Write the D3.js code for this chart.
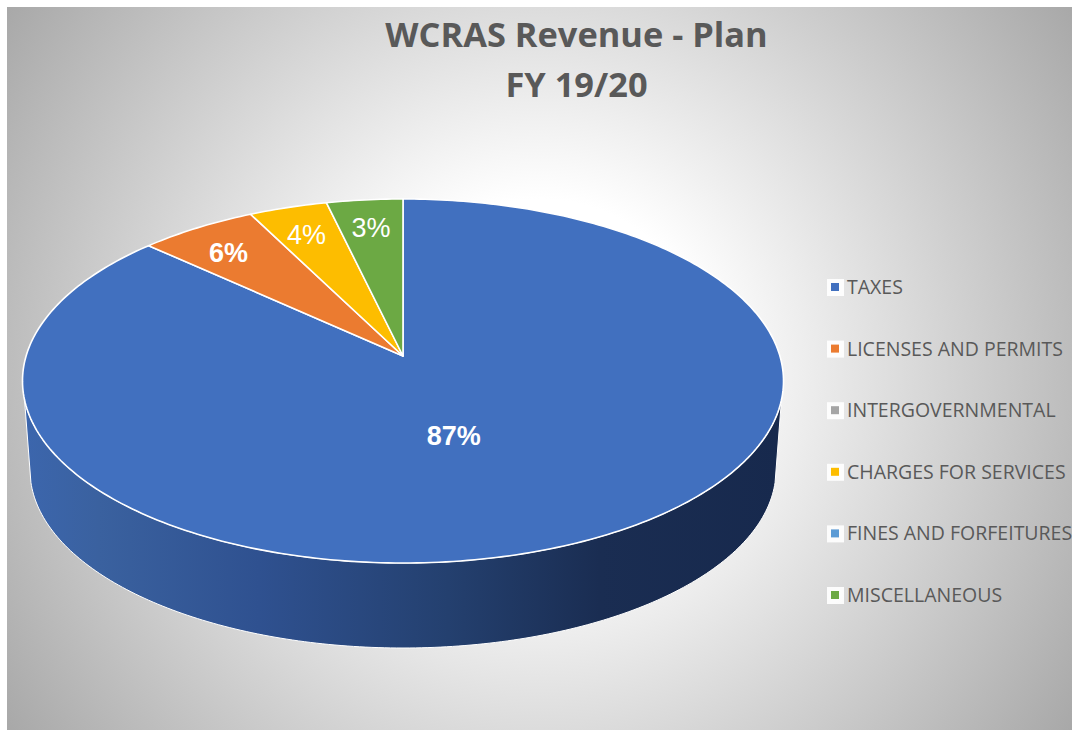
<!DOCTYPE html>
<html><head><meta charset="utf-8">
<style>html,body{margin:0;padding:0;background:#fff;overflow:hidden}svg{display:block}</style>
<script src="https://cdnjs.cloudflare.com/ajax/libs/d3/7.8.5/d3.min.js"></script>
</head><body><svg id="c" width="1072" height="730"></svg>
<script>
const titleLines = ["WCRAS Revenue - Plan", "FY 19/20"];
const categories = ["TAXES","LICENSES AND PERMITS","INTERGOVERNMENTAL","CHARGES FOR SERVICES","FINES AND FORFEITURES","MISCELLANEOUS"];
const values = [86.8, 5.7, 0, 3.8, 0, 3.7];
const labels = ["87%","6%","","4%","","3%"];
const colors = ["#4170bf","#eb7b30","#a5a5a5","#fdbd00","#5b9bd5","#6ca944"];

const svg = d3.select("#c"), W = 1072, H = 730;
const defs = svg.append("defs");
const bg = defs.append("radialGradient").attr("id","bg").attr("gradientUnits","userSpaceOnUse")
  .attr("cx",540).attr("cy",368).attr("r",650);
bg.append("stop").attr("offset",0.26).attr("stop-color","#ffffff");
bg.append("stop").attr("offset",1).attr("stop-color","#a7a7a7");
const wall = defs.append("linearGradient").attr("id","wall").attr("gradientUnits","userSpaceOnUse")
  .attr("x1",24).attr("x2",781).attr("y1",0).attr("y2",0);
[[0,"#3c66ad"],[0.1,"#3a619f"],[0.31,"#2f5190"],[0.56,"#24406f"],[0.76,"#1a2d52"],[1,"#17294d"]]
  .forEach(s=>wall.append("stop").attr("offset",s[0]).attr("stop-color",s[1]));

svg.append("rect").attr("x",7).attr("y",7).attr("width",W-7).attr("height",H-7).attr("fill","url(#bg)");

// perspective projection of the tilted unit disc
const cx=403, cy=356, kx=376.9, a=129.66, c=-0.1374;
const project=(u,v)=>{const d=c*v+1;return [cx+kx*u/d,(a*v+cy)/d];};
const polar=(ang,r=1)=>project(r*Math.sin(ang),-r*Math.cos(ang));
const line=d3.line();
const TAU=Math.PI*2;

// side wall
const rimAng=d3.range(0,181).map(i=>Math.PI*0.5+0.24+(Math.PI-0.48)*i/180);
const bcx=403,bcy=470,brx=373,bry=178;
const bottomPts=d3.range(0,181).map(i=>{const t=(4+172*i/180)*Math.PI/180;return [bcx-brx*Math.cos(t),bcy+bry*Math.sin(t)];});
const topFront=rimAng.map(t=>polar(t));
svg.append("path").attr("d",line(topFront.concat(bottomPts))+"Z")
  .attr("fill","url(#wall)").attr("stroke","#fff").attr("stroke-width",1);

// top slices
const arcs=d3.pie().sort(null).value(d=>d).startAngle(0).endAngle(TAU)(values);
svg.append("g").selectAll("path").data(arcs.filter(d=>d.value>0)).join("path")
  .attr("d",d=>{
    const n=Math.max(2,Math.ceil((d.endAngle-d.startAngle)*60));
    const pts=d3.range(n+1).map(i=>polar(d.startAngle+(d.endAngle-d.startAngle)*i/n));
    return line([[cx,cy]].concat(pts))+"Z";
  })
  .attr("fill",d=>colors[d.index]).attr("stroke","#fff").attr("stroke-width",1.6).attr("stroke-linejoin","round");

// data labels
const labelPos=d=>{
  if(d.index===0) return project(0.127,0.42);
  const back=TAU-(d.startAngle+d.endAngle)/2;
  return polar(TAU-back*(1+back*180/Math.PI*0.001),0.805);
};
svg.append("g").selectAll("text").data(arcs.filter(d=>labels[d.index])).join("text")
  .attr("x",d=>labelPos(d)[0]).attr("y",d=>labelPos(d)[1]).attr("dy","0.36em")
  .attr("text-anchor","middle").attr("fill","#fff")
  .attr("font-family","'Liberation Sans',Arial,sans-serif").attr("font-size",27)
  .attr("font-weight",d=>d.index<2?"bold":"normal")
  .text(d=>labels[d.index]);

// title
svg.append("g").selectAll("text").data(titleLines).join("text")
  .attr("x",576.5).attr("y",(d,i)=>47+i*50).attr("text-anchor","middle")
  .attr("font-family","'Open Sans',sans-serif").attr("font-weight",700).attr("font-size",34.4)
  .attr("fill","#595959").text(d=>d);

// legend
const legendY=d3.scalePoint().domain(categories).range([287,595]);
const lg=svg.append("g").selectAll("g").data(categories).join("g")
  .attr("transform",d=>`translate(0,${legendY(d)})`);
lg.append("rect").attr("x",827).attr("y",-8).attr("width",17).attr("height",17).attr("fill","#fff").attr("opacity",0.9);
lg.append("rect").attr("x",831).attr("y",-4).attr("width",8).attr("height",8).attr("fill",(d,i)=>colors[i]);
lg.append("text").attr("x",847).attr("dy","0.36em")
  .attr("font-family","'Open Sans',sans-serif").attr("font-size",19.5).attr("fill","#595959").text(d=>d);
</script></body></html>
